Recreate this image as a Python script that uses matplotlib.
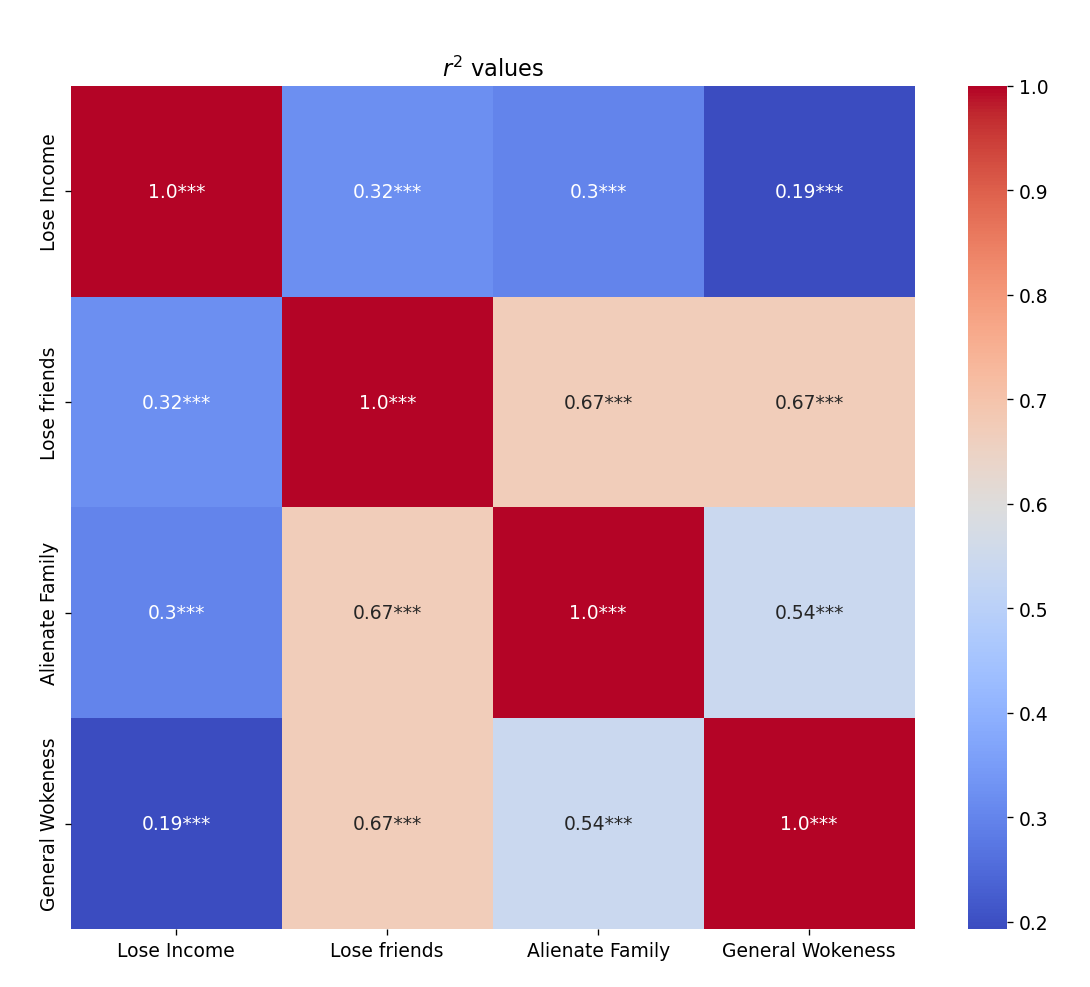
import matplotlib
matplotlib.use("Agg")
import matplotlib.pyplot as plt
import seaborn as sns
import numpy as np

# Data
labels = ['Lose Income', 'Lose friends', 'Alienate Family', 'General Wokeness']
r2 = np.array([
    [1.0, 0.32, 0.30, 0.193],
    [0.32, 1.0, 0.67, 0.67],
    [0.30, 0.67, 1.0, 0.54],
    [0.193, 0.67, 0.54, 1.0],
])
stars = [['***'] * 4 for _ in range(4)]

annot = np.array([[f"{round(r2[i, j], 2)}{stars[i][j]}" for j in range(4)] for i in range(4)])

plt.rcParams['font.size'] = 11.25
fig = plt.figure(figsize=(1090 / 120, 988 / 120), dpi=120)
ax = fig.add_axes([0.065, 0.0587, 0.774, 0.8533])
cax = fig.add_axes([0.888, 0.0587, 0.036, 0.8533])

sns.heatmap(r2, annot=annot, fmt='', cmap='coolwarm', ax=ax, cbar_ax=cax,
            xticklabels=labels, yticklabels=labels)
ax.set_title('$r^2$ values')

fig.savefig('out.png', dpi=120)
